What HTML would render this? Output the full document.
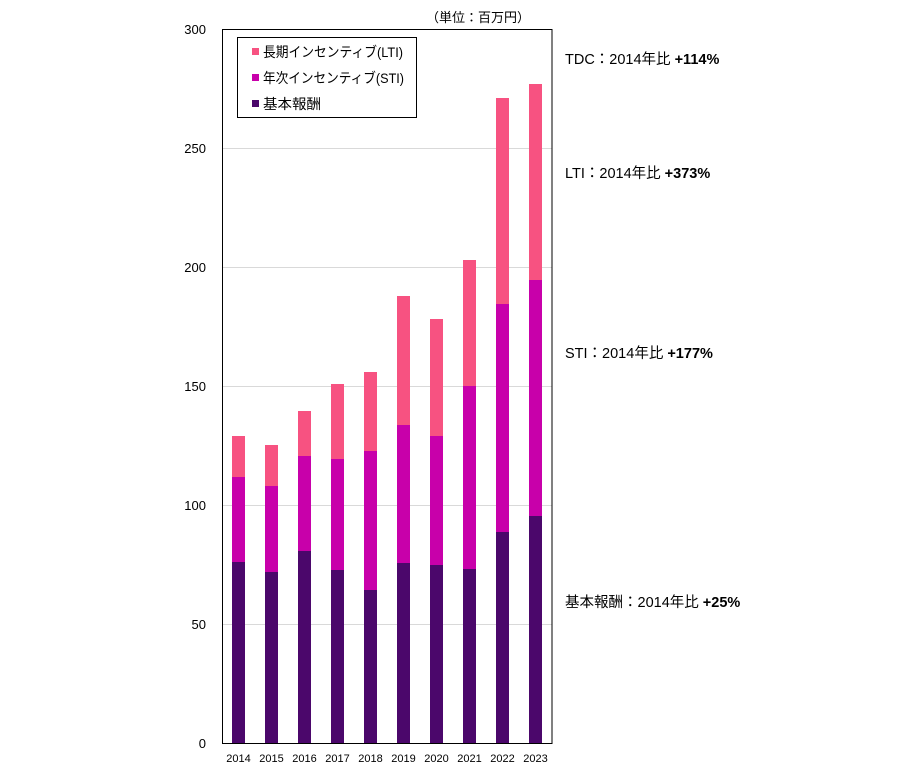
<!DOCTYPE html>
<html><head><meta charset="utf-8"><style>
body{margin:0;background:#fff;}
text{font-family:"Liberation Sans","Noto Sans CJK JP",sans-serif;fill:#000;}
</style></head><body>
<svg width="900" height="769" viewBox="0 0 900 769" xmlns="http://www.w3.org/2000/svg">
<rect width="900" height="769" fill="#fff"/>
<g stroke="#d9d9d9" stroke-width="1">
<line x1="222" y1="148.5" x2="552" y2="148.5"/>
<line x1="222" y1="267.5" x2="552" y2="267.5"/>
<line x1="222" y1="386.5" x2="552" y2="386.5"/>
<line x1="222" y1="505.5" x2="552" y2="505.5"/>
<line x1="222" y1="624.5" x2="552" y2="624.5"/>
</g>
<line x1="222" y1="743.5" x2="552" y2="743.5" stroke="#d9d9d9"/>
<g>
<rect x="232" y="562" width="13" height="181" fill="#4b076b"/><rect x="232" y="477" width="13" height="85" fill="#c800aa"/><rect x="232" y="436" width="13" height="41" fill="#f75281"/>
<rect x="265" y="572" width="13" height="171" fill="#4b076b"/><rect x="265" y="486" width="13" height="86" fill="#c800aa"/><rect x="265" y="445" width="13" height="41" fill="#f75281"/>
<rect x="298" y="551" width="13" height="192" fill="#4b076b"/><rect x="298" y="456" width="13" height="95" fill="#c800aa"/><rect x="298" y="411" width="13" height="45" fill="#f75281"/>
<rect x="331" y="570" width="13" height="173" fill="#4b076b"/><rect x="331" y="459" width="13" height="111" fill="#c800aa"/><rect x="331" y="384" width="13" height="75" fill="#f75281"/>
<rect x="364" y="590" width="13" height="153" fill="#4b076b"/><rect x="364" y="451" width="13" height="139" fill="#c800aa"/><rect x="364" y="372" width="13" height="79" fill="#f75281"/>
<rect x="397" y="563" width="13" height="180" fill="#4b076b"/><rect x="397" y="425" width="13" height="138" fill="#c800aa"/><rect x="397" y="296" width="13" height="129" fill="#f75281"/>
<rect x="430" y="565" width="13" height="178" fill="#4b076b"/><rect x="430" y="436" width="13" height="129" fill="#c800aa"/><rect x="430" y="319" width="13" height="117" fill="#f75281"/>
<rect x="463" y="569" width="13" height="174" fill="#4b076b"/><rect x="463" y="386" width="13" height="183" fill="#c800aa"/><rect x="463" y="260" width="13" height="126" fill="#f75281"/>
<rect x="496" y="532" width="13" height="211" fill="#4b076b"/><rect x="496" y="304" width="13" height="228" fill="#c800aa"/><rect x="496" y="98" width="13" height="206" fill="#f75281"/>
<rect x="529" y="516" width="13" height="227" fill="#4b076b"/><rect x="529" y="280" width="13" height="236" fill="#c800aa"/><rect x="529" y="84" width="13" height="196" fill="#f75281"/>
</g>
<rect x="222.5" y="29.5" width="329.5" height="714" fill="none" stroke="#000" stroke-width="1"/>
<g font-size="13" text-anchor="end">
<text x="206" y="34">300</text><text x="206" y="153">250</text><text x="206" y="272">200</text>
<text x="206" y="391">150</text><text x="206" y="510">100</text><text x="206" y="629">50</text><text x="206" y="748">0</text>
</g>
<g font-size="11" text-anchor="middle">
<text x="238.5" y="762">2014</text><text x="271.5" y="762">2015</text><text x="304.5" y="762">2016</text>
<text x="337.5" y="762">2017</text><text x="370.5" y="762">2018</text><text x="403.5" y="762">2019</text>
<text x="436.5" y="762">2020</text><text x="469.5" y="762">2021</text><text x="502.5" y="762">2022</text><text x="535.5" y="762">2023</text>
</g>
<rect x="237.5" y="37.5" width="179" height="80" fill="#fff" stroke="#000"/>
<rect x="252" y="48" width="7" height="7" fill="#f75281"/>
<rect x="252" y="74" width="7" height="7" fill="#c800aa"/>
<rect x="252" y="100" width="7" height="7" fill="#4b076b"/>
<g font-size="14">
<text x="263" y="57" textLength="140" lengthAdjust="spacingAndGlyphs">長期インセンティブ(LTI)</text>
<text x="263" y="83" textLength="141" lengthAdjust="spacingAndGlyphs">年次インセンティブ(STI)</text>
<text x="263" y="109" textLength="58" lengthAdjust="spacingAndGlyphs">基本報酬</text>
</g>
<text x="426" y="22" font-size="13" textLength="104" lengthAdjust="spacingAndGlyphs">（単位：百万円）</text>
<g font-size="14.5">
<text x="565" y="64">TDC：2014年比 <tspan font-weight="bold">+114%</tspan></text>
<text x="565" y="178">LTI：2014年比 <tspan font-weight="bold">+373%</tspan></text>
<text x="565" y="358">STI：2014年比 <tspan font-weight="bold">+177%</tspan></text>
<text x="565" y="607">基本報酬：2014年比 <tspan font-weight="bold">+25%</tspan></text>
</g>
</svg>
</body></html>
